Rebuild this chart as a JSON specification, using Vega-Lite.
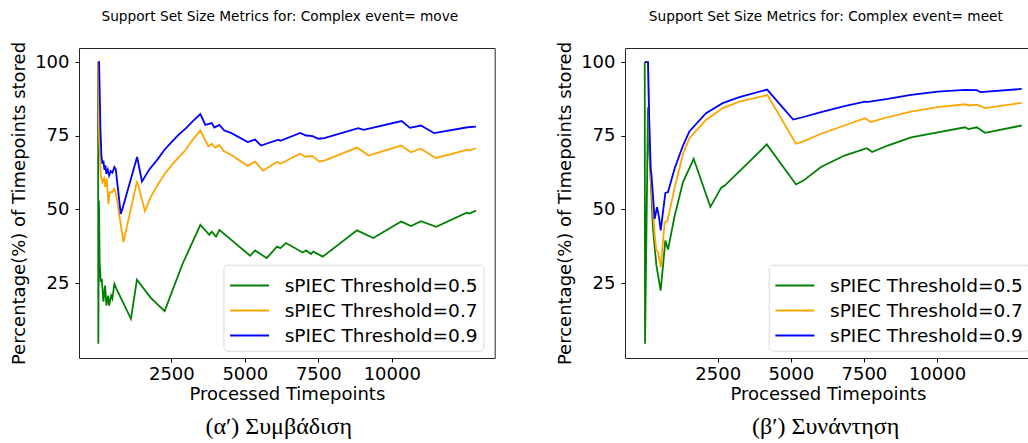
{
  "$schema": "https://vega.github.io/schema/vega-lite/v6.json",
  "background": "white",
  "padding": {"left": 10, "top": 9, "right": 0, "bottom": 0},
  "spacing": 60,
  "config": {
    "font": "DejaVu Sans",
    "view": {"stroke": "#262626", "strokeWidth": 1},
    "axis": {"grid": false, "domain": false, "tickSize": 4, "tickColor": "#000", "labelColor": "#000", "titleColor": "#000", "labelFontSize": 18, "titleFontSize": 18, "titleFontWeight": "normal", "labelFont": "DejaVu Sans", "titleFont": "DejaVu Sans"},
    "axisX": {"labelPadding": 3.5, "titlePadding": 2},
    "axisY": {"labelPadding": 6, "titlePadding": 6},
    "title": {"font": "DejaVu Sans", "fontSize": 13.7, "fontWeight": "normal", "color": "#000"},
    "legend": {"labelFont": "DejaVu Sans", "labelFontSize": 18.5, "labelColor": "#000", "symbolType": "M-1,0H1.758", "symbolSize": 800, "symbolStrokeWidth": 1.8, "labelOffset": 25, "padding": 5.3, "rowPadding": 0, "strokeColor": "#d9d9d9", "cornerRadius": 4, "fillColor": "rgba(255,255,255,0.85)", "labelLimit": 400}
  },
  "datasets": {
    "move": [
      {"t":5,"p":100,"s":"0.5"},{"t":15,"p":4.4,"s":"0.5"},{"t":35,"p":53,"s":"0.5"},{"t":60,"p":32,"s":"0.5"},{"t":98,"p":25.4,"s":"0.5"},{"t":132,"p":26.5,"s":"0.5"},{"t":187,"p":18.7,"s":"0.5"},{"t":245,"p":24.2,"s":"0.5"},{"t":289,"p":17.4,"s":"0.5"},{"t":347,"p":20.8,"s":"0.5"},{"t":381,"p":17.4,"s":"0.5"},{"t":449,"p":20.8,"s":"0.5"},{"t":493,"p":19.7,"s":"0.5"},{"t":561,"p":24.8,"s":"0.5"},{"t":629,"p":23.1,"s":"0.5"},{"t":1125,"p":12.9,"s":"0.5"},{"t":1328,"p":26.2,"s":"0.5"},{"t":1800,"p":20.0,"s":"0.5"},{"t":2270,"p":15.5,"s":"0.5"},{"t":2880,"p":31.5,"s":"0.5"},{"t":3486,"p":44.8,"s":"0.5"},{"t":3793,"p":41.4,"s":"0.5"},{"t":3874,"p":42.5,"s":"0.5"},{"t":4020,"p":40.8,"s":"0.5"},{"t":4133,"p":43.1,"s":"0.5"},{"t":5180,"p":34.3,"s":"0.5"},{"t":5347,"p":36.1,"s":"0.5"},{"t":5745,"p":33.5,"s":"0.5"},{"t":6095,"p":37.4,"s":"0.5"},{"t":6208,"p":36.9,"s":"0.5"},{"t":6401,"p":38.6,"s":"0.5"},{"t":6969,"p":35.4,"s":"0.5"},{"t":7082,"p":36.1,"s":"0.5"},{"t":7252,"p":34.9,"s":"0.5"},{"t":7330,"p":35.7,"s":"0.5"},{"t":7650,"p":34.0,"s":"0.5"},{"t":8816,"p":42.9,"s":"0.5"},{"t":9371,"p":40.3,"s":"0.5"},{"t":10320,"p":45.9,"s":"0.5"},{"t":10660,"p":44.4,"s":"0.5"},{"t":10993,"p":46.0,"s":"0.5"},{"t":11510,"p":44.1,"s":"0.5"},{"t":12550,"p":48.9,"s":"0.5"},{"t":12636,"p":48.6,"s":"0.5"},{"t":12864,"p":49.6,"s":"0.5"},
      {"t":5,"p":100,"s":"0.7"},{"t":25,"p":88,"s":"0.7"},{"t":41,"p":75.1,"s":"0.7"},{"t":98,"p":61.5,"s":"0.7"},{"t":154,"p":59.3,"s":"0.7"},{"t":210,"p":60.5,"s":"0.7"},{"t":245,"p":57.6,"s":"0.7"},{"t":300,"p":60.6,"s":"0.7"},{"t":358,"p":51.9,"s":"0.7"},{"t":404,"p":55.9,"s":"0.7"},{"t":493,"p":55.9,"s":"0.7"},{"t":561,"p":57.0,"s":"0.7"},{"t":629,"p":54.7,"s":"0.7"},{"t":868,"p":38.9,"s":"0.7"},{"t":1333,"p":59.7,"s":"0.7"},{"t":1600,"p":49.5,"s":"0.7"},{"t":1800,"p":54.3,"s":"0.7"},{"t":2037,"p":58.4,"s":"0.7"},{"t":2260,"p":61.9,"s":"0.7"},{"t":2490,"p":64.8,"s":"0.7"},{"t":2720,"p":67.4,"s":"0.7"},{"t":2942,"p":69.7,"s":"0.7"},{"t":3200,"p":73.3,"s":"0.7"},{"t":3486,"p":76.8,"s":"0.7"},{"t":3760,"p":71.4,"s":"0.7"},{"t":3874,"p":72.3,"s":"0.7"},{"t":3997,"p":71.0,"s":"0.7"},{"t":4133,"p":71.9,"s":"0.7"},{"t":4280,"p":69.8,"s":"0.7"},{"t":4531,"p":68.6,"s":"0.7"},{"t":5098,"p":64.8,"s":"0.7"},{"t":5347,"p":66.2,"s":"0.7"},{"t":5620,"p":63.2,"s":"0.7"},{"t":6100,"p":66.2,"s":"0.7"},{"t":6208,"p":65.5,"s":"0.7"},{"t":6880,"p":68.9,"s":"0.7"},{"t":7060,"p":67.9,"s":"0.7"},{"t":7280,"p":68.2,"s":"0.7"},{"t":7534,"p":66.3,"s":"0.7"},{"t":7704,"p":66.6,"s":"0.7"},{"t":8816,"p":71.0,"s":"0.7"},{"t":9210,"p":68.3,"s":"0.7"},{"t":10320,"p":71.7,"s":"0.7"},{"t":10650,"p":69.4,"s":"0.7"},{"t":10980,"p":70.6,"s":"0.7"},{"t":11500,"p":67.5,"s":"0.7"},{"t":12560,"p":70.2,"s":"0.7"},{"t":12640,"p":70.1,"s":"0.7"},{"t":12864,"p":70.7,"s":"0.7"},
      {"t":5,"p":100,"s":"0.9"},{"t":41,"p":100,"s":"0.9"},{"t":64,"p":88.7,"s":"0.9"},{"t":86,"p":77.4,"s":"0.9"},{"t":120,"p":68.3,"s":"0.9"},{"t":154,"p":65.5,"s":"0.9"},{"t":187,"p":66.6,"s":"0.9"},{"t":221,"p":63.5,"s":"0.9"},{"t":255,"p":65,"s":"0.9"},{"t":289,"p":62.1,"s":"0.9"},{"t":336,"p":63.5,"s":"0.9"},{"t":381,"p":61.5,"s":"0.9"},{"t":438,"p":63,"s":"0.9"},{"t":493,"p":62.5,"s":"0.9"},{"t":561,"p":64.4,"s":"0.9"},{"t":608,"p":63.6,"s":"0.9"},{"t":778,"p":48.5,"s":"0.9"},{"t":834,"p":50.2,"s":"0.9"},{"t":1333,"p":67.8,"s":"0.9"},{"t":1500,"p":59.5,"s":"0.9"},{"t":1750,"p":63.6,"s":"0.9"},{"t":2037,"p":67.1,"s":"0.9"},{"t":2260,"p":70.2,"s":"0.9"},{"t":2490,"p":72.7,"s":"0.9"},{"t":2740,"p":75.3,"s":"0.9"},{"t":3000,"p":77.6,"s":"0.9"},{"t":3240,"p":80.1,"s":"0.9"},{"t":3486,"p":82.4,"s":"0.9"},{"t":3657,"p":78.7,"s":"0.9"},{"t":3874,"p":79.3,"s":"0.9"},{"t":3963,"p":77.8,"s":"0.9"},{"t":4133,"p":78.7,"s":"0.9"},{"t":4303,"p":76.8,"s":"0.9"},{"t":4531,"p":76.0,"s":"0.9"},{"t":5098,"p":72.9,"s":"0.9"},{"t":5347,"p":73.7,"s":"0.9"},{"t":5551,"p":71.7,"s":"0.9"},{"t":6140,"p":73.7,"s":"0.9"},{"t":6208,"p":73.3,"s":"0.9"},{"t":6888,"p":76.0,"s":"0.9"},{"t":7082,"p":75.1,"s":"0.9"},{"t":7310,"p":74.9,"s":"0.9"},{"t":7500,"p":74.0,"s":"0.9"},{"t":7704,"p":74.2,"s":"0.9"},{"t":8861,"p":77.6,"s":"0.9"},{"t":9044,"p":77.0,"s":"0.9"},{"t":10337,"p":80.0,"s":"0.9"},{"t":10619,"p":77.7,"s":"0.9"},{"t":10993,"p":78.5,"s":"0.9"},{"t":11446,"p":75.9,"s":"0.9"},{"t":12581,"p":77.9,"s":"0.9"},{"t":12864,"p":78.1,"s":"0.9"}
    ],
    "meet": [
      {"t":5,"p":100,"s":"0.5"},{"t":15,"p":4.4,"s":"0.5"},{"t":117,"p":84.7,"s":"0.5"},{"t":174,"p":67.2,"s":"0.5"},{"t":288,"p":43.4,"s":"0.5"},{"t":403,"p":31.0,"s":"0.5"},{"t":551,"p":22.5,"s":"0.5"},{"t":710,"p":39.5,"s":"0.5"},{"t":801,"p":36.4,"s":"0.5"},{"t":1029,"p":47.9,"s":"0.5"},{"t":1314,"p":59.3,"s":"0.5"},{"t":1679,"p":67.2,"s":"0.5"},{"t":2250,"p":50.9,"s":"0.5"},{"t":2620,"p":57.4,"s":"0.5"},{"t":2739,"p":58.1,"s":"0.5"},{"t":3241,"p":62.9,"s":"0.5"},{"t":4180,"p":72.1,"s":"0.5"},{"t":5178,"p":58.5,"s":"0.5"},{"t":5430,"p":59.8,"s":"0.5"},{"t":6033,"p":64.4,"s":"0.5"},{"t":6833,"p":68.3,"s":"0.5"},{"t":7600,"p":70.8,"s":"0.5"},{"t":7780,"p":69.5,"s":"0.5"},{"t":8314,"p":71.7,"s":"0.5"},{"t":9111,"p":74.5,"s":"0.5"},{"t":10024,"p":76.2,"s":"0.5"},{"t":10958,"p":77.9,"s":"0.5"},{"t":11074,"p":77.3,"s":"0.5"},{"t":11358,"p":77.9,"s":"0.5"},{"t":11642,"p":76.0,"s":"0.5"},{"t":12897,"p":78.5,"s":"0.5"},
      {"t":5,"p":100,"s":"0.7"},{"t":117,"p":100,"s":"0.7"},{"t":160,"p":75,"s":"0.7"},{"t":209,"p":61.5,"s":"0.7"},{"t":345,"p":41.2,"s":"0.7"},{"t":403,"p":36.1,"s":"0.7"},{"t":460,"p":35.5,"s":"0.7"},{"t":551,"p":30.4,"s":"0.7"},{"t":687,"p":45.7,"s":"0.7"},{"t":779,"p":46.0,"s":"0.7"},{"t":1029,"p":57.5,"s":"0.7"},{"t":1303,"p":68.5,"s":"0.7"},{"t":1531,"p":74.2,"s":"0.7"},{"t":2100,"p":80.4,"s":"0.7"},{"t":2671,"p":84.4,"s":"0.7"},{"t":3241,"p":86.6,"s":"0.7"},{"t":4199,"p":88.8,"s":"0.7"},{"t":5178,"p":72.3,"s":"0.7"},{"t":5430,"p":73.1,"s":"0.7"},{"t":6033,"p":75.7,"s":"0.7"},{"t":6833,"p":78.5,"s":"0.7"},{"t":7538,"p":81.0,"s":"0.7"},{"t":7732,"p":79.7,"s":"0.7"},{"t":8314,"p":81.3,"s":"0.7"},{"t":9111,"p":83.2,"s":"0.7"},{"t":10024,"p":84.7,"s":"0.7"},{"t":10958,"p":85.7,"s":"0.7"},{"t":11074,"p":85.3,"s":"0.7"},{"t":11358,"p":85.6,"s":"0.7"},{"t":11642,"p":84.4,"s":"0.7"},{"t":12897,"p":86.2,"s":"0.7"},
      {"t":5,"p":100,"s":"0.9"},{"t":117,"p":100,"s":"0.9"},{"t":160,"p":80,"s":"0.9"},{"t":209,"p":63.8,"s":"0.9"},{"t":232,"p":62.1,"s":"0.9"},{"t":345,"p":46.8,"s":"0.9"},{"t":425,"p":50.8,"s":"0.9"},{"t":493,"p":47.4,"s":"0.9"},{"t":551,"p":42.9,"s":"0.9"},{"t":710,"p":55.6,"s":"0.9"},{"t":801,"p":55.9,"s":"0.9"},{"t":1029,"p":64.0,"s":"0.9"},{"t":1303,"p":71.4,"s":"0.9"},{"t":1531,"p":76.5,"s":"0.9"},{"t":2100,"p":82.7,"s":"0.9"},{"t":2671,"p":86.1,"s":"0.9"},{"t":3241,"p":88.1,"s":"0.9"},{"t":4190,"p":90.7,"s":"0.9"},{"t":5080,"p":80.5,"s":"0.9"},{"t":5400,"p":81.3,"s":"0.9"},{"t":6033,"p":83.0,"s":"0.9"},{"t":6833,"p":85.1,"s":"0.9"},{"t":7538,"p":86.6,"s":"0.9"},{"t":7650,"p":86.5,"s":"0.9"},{"t":8314,"p":87.5,"s":"0.9"},{"t":9111,"p":88.9,"s":"0.9"},{"t":10024,"p":90.0,"s":"0.9"},{"t":10960,"p":90.6,"s":"0.9"},{"t":11358,"p":90.5,"s":"0.9"},{"t":11490,"p":89.8,"s":"0.9"},{"t":12897,"p":90.9,"s":"0.9"}
    ]
  },
  "hconcat": [
    {
      "title": {"text": "(α′) Συμβάδιση", "orient": "bottom", "font": "Liberation Serif", "fontSize": 24, "anchor": "middle", "offset": 11, "dx": 26},
      "resolve": {"scale": {"color": "independent"}, "legend": {"color": "independent"}},
      "vconcat": [
        {
          "width": 415.7,
          "height": 310,
          "title": {"text": "Support Set Size Metrics for: Complex event= move", "anchor": "middle", "frame": "group", "offset": 18, "dx": -7},
          "data": {"name": "move"},
          "mark": {"type": "line", "strokeWidth": 1.8, "clip": true},
          "encoding": {
            "x": {"field": "t", "type": "quantitative", "scale": {"domain": [-643, 13503], "nice": false, "zero": false}, "axis": {"values": [2500, 5000, 7500, 10000], "format": "d", "title": "Processed Timepoints"}},
            "y": {"field": "p", "type": "quantitative", "scale": {"domain": [-0.4, 104.8], "nice": false, "zero": false}, "axis": {"values": [25, 50, 75, 100], "title": "Percentage(%) of Timepoints stored"}},
            "color": {"field": "s", "type": "nominal", "scale": {"domain": ["0.5", "0.7", "0.9"], "range": ["#008000", "#FFA500", "#0000FF"]}, "legend": {"title": null, "orient": "none", "legendX": 144.4, "legendY": 216.7, "labelExpr": "'sPIEC Threshold=' + datum.label"}}
          }
        }
      ]
    },
    {
      "title": {"text": "(β′) Συνάντηση", "orient": "bottom", "font": "Liberation Serif", "fontSize": 24, "anchor": "middle", "offset": 11, "dx": 32},
      "resolve": {"scale": {"color": "independent"}, "legend": {"color": "independent"}},
      "vconcat": [
        {
          "width": 405.7,
          "height": 310,
          "title": {"text": "Support Set Size Metrics for: Complex event= meet", "anchor": "middle", "frame": "group", "offset": 18, "dx": -2},
          "data": {"name": "meet"},
          "mark": {"type": "line", "strokeWidth": 1.8, "clip": true},
          "encoding": {
            "x": {"field": "t", "type": "quantitative", "scale": {"domain": [-670, 13204], "nice": false, "zero": false}, "axis": {"values": [2500, 5000, 7500, 10000], "format": "d", "title": "Processed Timepoints"}},
            "y": {"field": "p", "type": "quantitative", "scale": {"domain": [-0.4, 104.8], "nice": false, "zero": false}, "axis": {"values": [25, 50, 75, 100], "title": "Percentage(%) of Timepoints stored"}},
            "color": {"field": "s", "type": "nominal", "scale": {"domain": ["0.5", "0.7", "0.9"], "range": ["#008000", "#FFA500", "#0000FF"]}, "legend": {"title": null, "orient": "none", "legendX": 143.7, "legendY": 216.7, "labelExpr": "'sPIEC Threshold=' + datum.label"}}
          }
        }
      ]
    }
  ],
  "resolve": {"scale": {"color": "independent"}, "legend": {"color": "independent"}}
}
